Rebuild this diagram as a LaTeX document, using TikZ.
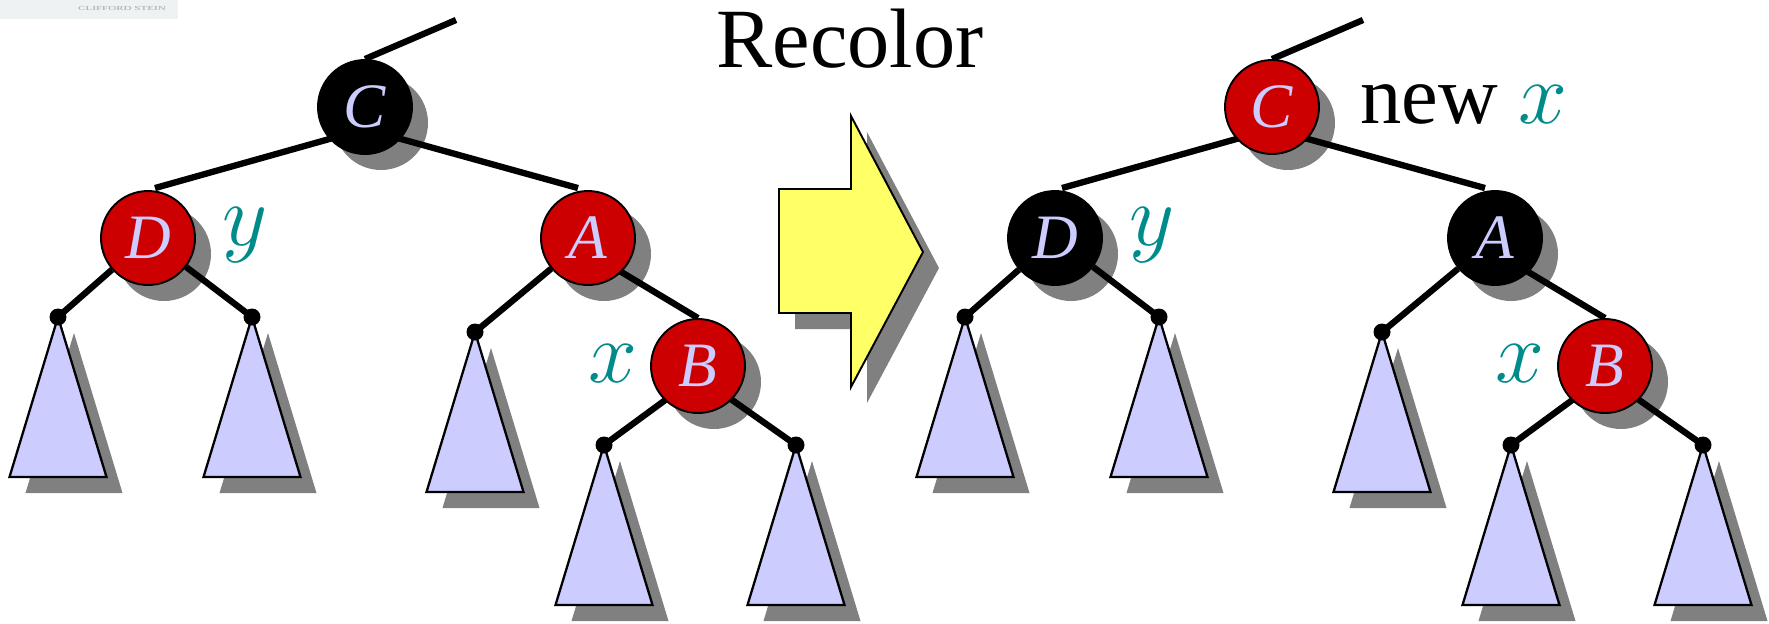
\RequirePackage{fix-cm}
\documentclass[tikz,border=0pt]{standalone}
\usepackage{fontspec}
\setmainfont{Liberation Serif}
\usepackage{xcolor}
\usetikzlibrary{positioning,shadows,calc}

\definecolor{rbred}{HTML}{CC0000}
\definecolor{lavender}{HTML}{CCCCFF}
\definecolor{labelteal}{HTML}{008B8B}
\definecolor{arrowyellow}{HTML}{FFFF66}
\definecolor{shadowgray}{HTML}{808080}
\definecolor{logobg}{HTML}{EEF2F3}

\pgfdeclarelayer{shadow}
\pgfdeclarelayer{edges}
\pgfsetlayers{shadow,edges,main}

\begin{document}
\begin{tikzpicture}[
  x=0.02cm, y=-0.02cm,
  rbnode/.style={circle, draw, line width=1.1pt, minimum size=1.88cm, inner sep=0pt, text=lavender, font=\fontsize{36}{36}\selectfont\itshape},
  edge/.style={line width=3.6pt},
  tri/.style={fill=lavender, draw, line width=1.3pt, drop shadow={shadow xshift=0.32cm, shadow yshift=-0.32cm, opacity=1, fill=shadowgray}},
  lab/.style={text=labelteal, font=\fontsize{50}{50}\selectfont, inner sep=0pt, anchor=base west},
  big/.style={font=\fontsize{48}{48}\selectfont, inner sep=0pt, anchor=base}
]
\useasboundingbox (0,0) rectangle (1769,623);

% corner of the cover
\fill[logobg] (0,0) rectangle (178,19);
\node[font=\fontsize{3.5}{4}\selectfont, text=gray!70, xscale=1.8, transform shape] (logo) at (122,8) {CLIFFORD STEIN};

\node[big] (title) at (850,67) {Recolor};

% the two trees, before and after
\foreach \t/\dx/\cc/\kc in {L/0/black/rbred, R/907/rbred/black} {
  \node[rbnode, fill=\cc] (c\t) at (\dx+365,107) {C};
  \node[rbnode, fill=\kc] (d\t) at (\dx+148,238) {D};
  \node[rbnode, fill=\kc] (a\t) at (\dx+588,238) {A};
  \node[rbnode, fill=rbred] (b\t) at (\dx+698,366) {B};
  \coordinate (top\t) at (\dx+456,20);
  \coordinate (dl\t) at (\dx+58,317);
  \coordinate (dr\t) at (\dx+252,317);
  \coordinate (al\t) at (\dx+475,332);
  \coordinate (bl\t) at (\dx+604,445);
  \coordinate (br\t) at (\dx+796,445);
  \node[lab] (y\t) at (\dx+222,245) {$y$};
  \node[lab] (x\t) at (\dx+588,382) {$x$};

  \begin{pgfonlayer}{edges}
    \draw[edge] (c\t.north) -- (top\t);
    \draw[edge] ($(c\t)+(0,22)$) -- ($(d\t.north)+(7,-2)$);
    \draw[edge] ($(c\t)+(0,22)$) -- ($(a\t.north)+(-10,-2)$);
    \draw[edge] (d\t) -- (dl\t);
    \draw[edge] (d\t) -- (dr\t);
    \draw[edge] (a\t) -- (al\t);
    \draw[edge] ($(a\t)+(0,14)$) -- (b\t.north);
    \draw[edge] ($(b\t)+(0,10)$) -- (bl\t);
    \draw[edge] ($(b\t)+(0,10)$) -- (br\t);
  \end{pgfonlayer}

  \begin{pgfonlayer}{shadow}
    \foreach \n in {c,d,a,b}
      \fill[shadowgray] ($(\n\t)+(16,16)$) circle (47);
  \end{pgfonlayer}

  % subtrees
  \foreach \p in {dl,dr,al,bl,br}
    \filldraw[tri] (\p\t) -- ++(48.5,160) -- ++(-97,0) -- cycle;
  \foreach \p in {dl,dr,al,bl,br}
    \fill (\p\t) circle (8.5);
}

\node[big, anchor=base west, font=\fontsize{47}{47}\selectfont] (newx) at (1360,123) {new \textcolor{labelteal}{\fontsize{50}{50}\selectfont$x$}};

% big arrow
\filldraw[fill=arrowyellow, line width=1.1pt, drop shadow={shadow xshift=0.32cm, shadow yshift=-0.32cm, opacity=1, fill=shadowgray}]
  (779,189) -- (851,189) -- (851,116) -- (923,252) -- (851,387) -- (851,313) -- (779,313) -- cycle;
\end{tikzpicture}
\end{document}
